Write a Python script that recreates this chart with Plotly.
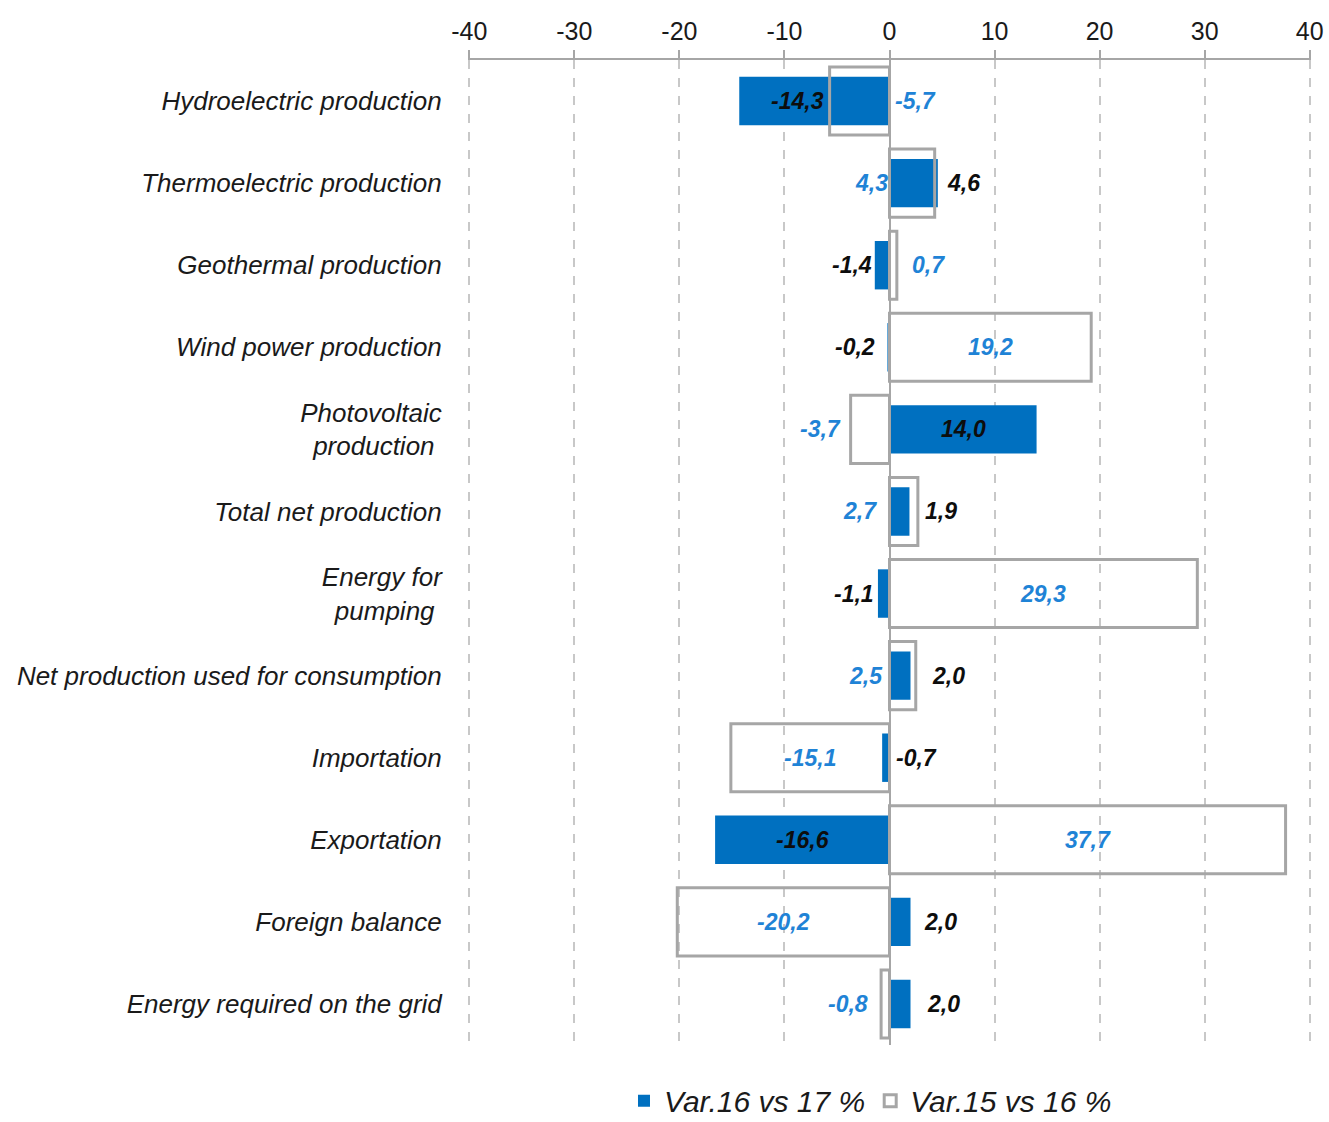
import plotly.graph_objects as go

# Category labels (top to bottom) and the two percentage-change series
categories = [
    "Hydroelectric production",
    "Thermoelectric production",
    "Geothermal production",
    "Wind power production",
    "Photovoltaic<br>production\u00a0",
    "Total net production",
    "Energy for<br>pumping\u00a0",
    "Net production used for consumption",
    "Importation",
    "Exportation",
    "Foreign balance",
    "Energy required on the grid",
]
var_16_17 = [-14.3, 4.6, -1.4, -0.2, 14.0, 1.9, -1.1, 2.0, -0.7, -16.6, 2.0, 2.0]
var_15_16 = [-5.7, 4.3, 0.7, 19.2, -3.7, 2.7, 29.3, 2.5, -15.1, 37.7, -20.2, -0.8]

series_names = ["Var.16 vs 17 %", "Var.15 vs 16 %"]
x_ticks = [-40, -30, -20, -10, 0, 10, 20, 30, 40]

# Where each value label sits: "in" = centred in the bar,
# "out" = just past the bar end, "base" = on the other side of zero
label_mode_16_17 = ["in", "out", "out", "out", "in", "out", "out", "out", "base", "in", "out", "out"]
label_mode_15_16 = ["base", "base", "out", "in", "out", "base", "in", "base", "in", "in", "in", "out"]
# small pixel nudges for individual labels
label_nudge_16_17 = [-17, -3, 9, 0, 0, 4, 8, 9, 2, 0, 1, 4]
label_nudge_15_16 = [1, 2, 3, 0, 2, -9, 0, -3, 0, 0, 0, -1]

BLUE = "#0070C0"
GREY = "#A6A6A6"
LABEL_BLUE = "#1F83D6"
FONT = "Liberation Sans, Arial, sans-serif"

fig = go.Figure()

fig.add_trace(go.Bar(
    y=categories, x=var_16_17, orientation="h", name=series_names[0],
    marker=dict(color=BLUE, line=dict(width=0)), width=0.59,
))
fig.add_trace(go.Bar(
    y=categories, x=var_15_16, orientation="h", name=series_names[1],
    marker=dict(color="rgba(255,255,255,0)", line=dict(color=GREY, width=3)),
    width=0.83,
))


def fmt(v):
    return f"{v:.1f}".replace(".", ",")


def add_labels(values, modes, color, nudges):
    pad = 10
    for cat, v, mode, nudge in zip(categories, values, modes, nudges):
        shift = nudge
        if mode == "in":
            x, anchor = v / 2, "center"
        elif mode == "out":
            x = v
            anchor = "left" if v > 0 else "right"
            shift += pad if v > 0 else -pad
        else:
            x = 0
            anchor = "right" if v > 0 else "left"
            shift += -2 if v > 0 else 2
        fig.add_annotation(
            x=x, y=cat, xref="x", yref="y", text=fmt(v), showarrow=False,
            xanchor=anchor, xshift=shift,
            font=dict(family=FONT, size=23, color=color, style="italic", weight="bold"),
        )


add_labels(var_16_17, label_mode_16_17, "#0D0D0D", label_nudge_16_17)
add_labels(var_15_16, label_mode_15_16, LABEL_BLUE, label_nudge_15_16)

fig.update_layout(
    width=1329, height=1122,
    margin=dict(l=468, r=18, t=60, b=77, autoexpand=False),
    paper_bgcolor="white", plot_bgcolor="white",
    barmode="overlay",
    showlegend=True,
    legend=dict(
        orientation="h", xref="container", yref="container",
        x=0.655, xanchor="center", y=0.019, yanchor="middle",
        font=dict(family=FONT, size=30, color="#1A1A1A", style="italic"),
        itemwidth=30, traceorder="normal",
    ),
    xaxis=dict(
        side="top", range=[-40.12, 40.12], tickvals=x_ticks,
        ticktext=[str(t) for t in x_ticks],
        showline=True, linecolor=GREY, linewidth=2,
        ticks="outside", ticklen=8, tickwidth=2, tickcolor=GREY,
        showgrid=True, gridcolor="#C8C8C8", gridwidth=1.5, griddash="dash",
        zeroline=True, zerolinecolor=GREY, zerolinewidth=2,
        tickfont=dict(family=FONT, size=25, color="#1A1A1A"),
        fixedrange=True,
    ),
    yaxis=dict(
        categoryorder="array", categoryarray=categories, autorange="reversed",
        showline=False, showgrid=False, zeroline=False,
        ticks="outside", ticklen=20, tickcolor="rgba(0,0,0,0)",
        tickfont=dict(family=FONT, size=26, color="#1A1A1A", style="italic"),
        fixedrange=True,
    ),
)

fig.write_html("out.html")
